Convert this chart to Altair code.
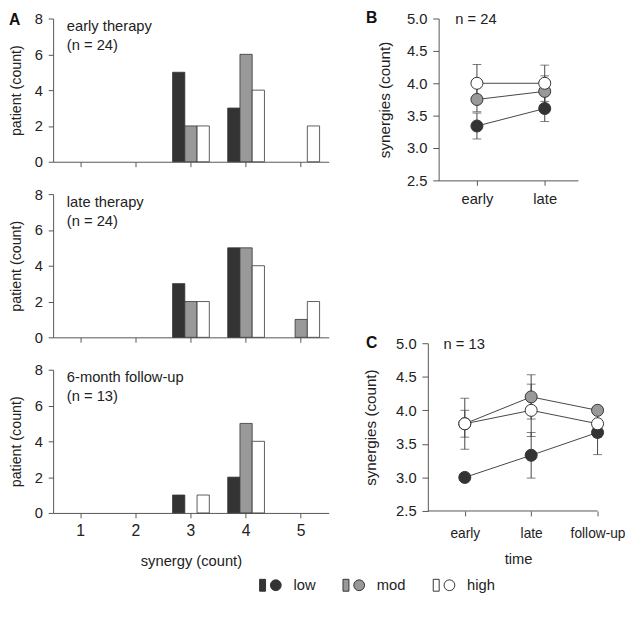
import altair as alt
import pandas as pd

FONT = "Liberation Sans"

# ---------------- data ----------------
levels = ["low", "mod", "high"]
level_colors = ["#333333", "#999999", "#ffffff"]
synergy = [1, 2, 3, 4, 5]

early_low = [0, 0, 5, 3, 0]
early_mod = [0, 0, 2, 6, 0]
early_high = [0, 0, 2, 4, 2]

late_low = [0, 0, 3, 5, 0]
late_mod = [0, 0, 2, 5, 1]
late_high = [0, 0, 2, 4, 2]

follow_low = [0, 0, 1, 2, 0]
follow_mod = [0, 0, 0, 5, 0]
follow_high = [0, 0, 1, 4, 0]

panel_titles = [["early therapy", "(n = 24)"],
                ["late therapy", "(n = 24)"],
                ["6-month follow-up", "(n = 13)"]]

times_B = ["early", "late"]
B_low_mean = [3.34, 3.61]
B_low_err = [0.20, 0.20]
B_mod_mean = [3.75, 3.875]
B_mod_err = [0.19, 0.24]
B_high_mean = [4.0, 4.0]
B_high_err = [0.29, 0.28]

times_C = ["early", "late", "follow-up"]
C_low_mean = [3.0, 3.33, 3.67]
C_low_err = [0.0, 0.34, 0.33]
C_mod_mean = [3.8, 4.2, 4.0]
C_mod_err = [0.38, 0.33, 0.0]
C_high_mean = [3.8, 4.0, 3.8]
C_high_err = [0.2, 0.39, 0.2]

y_ticks_A = [0, 2, 4, 6, 8]
y_ticks_BC = [2.5, 3.0, 3.5, 4.0, 4.5, 5.0]

# ---------------- shared pieces ----------------
SYMBOL_PATH = ("M-1,-0.55L-0.45,-0.55L-0.45,0.55L-1,0.55Z "
               "M0,0A0.5,0.5 0 1,0 1,0A0.5,0.5 0 1,0 0,0Z")

LEGEND = alt.Legend(
    title=None, orient="none", legendX=210, legendY=566,
    direction="horizontal", symbolType=SYMBOL_PATH, symbolSize=484,
    symbolStrokeColor="#333333", symbolStrokeWidth=1, symbolOpacity=1,
    labelFont=FONT, labelFontSize=15, labelColor="#222222",
    labelOffset=12, columnPadding=25,
)

FILL_SCALE = alt.Scale(domain=levels, range=level_colors)


def fill_enc():
    return alt.Fill("level:N", scale=FILL_SCALE, legend=LEGEND, sort=levels)


def one_row():
    return alt.Chart(pd.DataFrame({"k": [0]}))


def panel_A(lows, mods, highs, title_lines, show_labels, letter=None):
    rows = []
    for lev, vals in zip(levels, [lows, mods, highs]):
        for s, c in zip(synergy, vals):
            if c > 0:
                rows.append({"synergy": s, "level": lev, "count": c})
    df = pd.DataFrame(rows)
    x = alt.X(
        "synergy:O",
        scale=alt.Scale(domain=synergy, paddingInner=0.3333, paddingOuter=0.1667),
        axis=alt.Axis(
            labels=show_labels, labelAngle=0, labelFontSize=16, labelPadding=5,
            title="synergy (count)" if show_labels else None,
            titleFontSize=15, titlePadding=16, tickSize=5,
        ),
    )
    y = alt.Y(
        "count:Q",
        scale=alt.Scale(domain=[0, 8], nice=False),
        axis=alt.Axis(values=y_ticks_A, title="patient (count)",
                      labelFontSize=15, labelPadding=6, titlePadding=11,
                      titleFontSize=14.5, labelOverlap=False),
    )
    bars = alt.Chart(df).mark_bar(stroke="#333333", strokeWidth=0.8).encode(
        x=x,
        xOffset=alt.XOffset("level:N",
                            scale=alt.Scale(domain=levels, paddingInner=0, paddingOuter=0)),
        y=y,
        fill=fill_enc(),
    )
    layers = [bars]
    lab = one_row().mark_text(
        text=title_lines, align="left", baseline="top", font=FONT,
        fontSize=15, lineHeight=19, color="#222222",
    ).encode(x=alt.value(14), y=alt.value(1))
    layers.append(lab)
    if letter:
        let = one_row().mark_text(
            text=letter, align="left", baseline="middle", font=FONT,
            fontSize=16, fontWeight="bold", color="#111111",
        ).encode(x=alt.value(-45), y=alt.value(2))
        layers.append(let)
    return alt.layer(*layers).properties(width=281, height=146)


def make_df(times, means, errs):
    rows = []
    for lev, m_list, e_list in zip(levels, means, errs):
        for i, (t, m, e) in enumerate(zip(times, m_list, e_list)):
            rows.append({"t": i + 1, "time": t, "level": lev, "mean": m, "err": e})
    return pd.DataFrame(rows)


def panel_line(df, width, height, xdomain, xvalues, n_text, n_x, letter,
               x_title=None, y_offset=0, draw_domain=True, title_pad=12,
               label_expr="", x_label_pad=5, x_title_pad=9, x_label_size=15):
    xs = alt.Scale(domain=xdomain, nice=False, zero=False)
    ys = alt.Scale(domain=[2.5, 5.0], nice=False, zero=False)
    xaxis = alt.Axis(values=xvalues, labelExpr=label_expr, title=x_title,
                     domain=draw_domain, tickSize=5, labelPadding=x_label_pad,
                     titlePadding=x_title_pad, labelFontSize=x_label_size,
                     titleFontSize=15, labelFlush=False)
    yaxis = alt.Axis(values=y_ticks_BC, format=".1f", title="synergies (count)",
                     offset=y_offset, labelPadding=6, titlePadding=title_pad,
                     labelFontSize=15, titleFontSize=15.5, labelOverlap=False,
                     tickSize=6)
    X = alt.X("t:Q", scale=xs, axis=xaxis)
    Ym = alt.Y("mean:Q", scale=ys, axis=yaxis)
    base = alt.Chart(df)
    lines = base.mark_line(color="#444444", strokeWidth=1).encode(
        x=X, y=Ym, detail="level:N")
    eb = base.transform_calculate(
        lo="datum.mean - datum.err", hi="datum.mean + datum.err"
    ).transform_filter("datum.err > 0")
    rules = eb.mark_rule(color="#444444", strokeWidth=1).encode(
        x=X, y=alt.Y("lo:Q", scale=ys, axis=yaxis), y2="hi:Q")
    cap_lo = eb.mark_tick(orient="horizontal", size=9, thickness=1,
                          color="#444444").encode(
        x=X, y=alt.Y("lo:Q", scale=ys, axis=yaxis))
    cap_hi = eb.mark_tick(orient="horizontal", size=9, thickness=1,
                          color="#444444").encode(
        x=X, y=alt.Y("hi:Q", scale=ys, axis=yaxis))
    pts = base.mark_point(filled=True, shape="circle", size=150, opacity=1,
                          stroke="#333333", strokeWidth=1).encode(
        x=X, y=Ym, fill=fill_enc())
    nt = one_row().mark_text(
        text=n_text, align="left", baseline="middle", font=FONT,
        fontSize=15, color="#222222").encode(x=alt.value(n_x), y=alt.value(1))
    let = one_row().mark_text(
        text=letter, align="left", baseline="middle", font=FONT,
        fontSize=16, fontWeight="bold", color="#111111").encode(
        x=alt.value(-74), y=alt.value(0))
    layers = [lines, rules, cap_lo, cap_hi, pts, nt, let]
    if not draw_domain:
        base_rule = one_row().mark_rule(color="#555555", strokeWidth=1).encode(
            x=alt.datum(xdomain[0] - y_offset * (xdomain[1] - xdomain[0]) / width,
                        scale=xs, axis=xaxis),
            x2=alt.datum(xdomain[1]),
            y=alt.datum(2.5, scale=ys, axis=yaxis))
        layers.insert(1, base_rule)
    return alt.layer(*layers).properties(width=width, height=height)


A1 = panel_A(early_low, early_mod, early_high, panel_titles[0], False, "A")
A2 = panel_A(late_low, late_mod, late_high, panel_titles[1], False)
A3 = panel_A(follow_low, follow_mod, follow_high, panel_titles[2], True)
colA = alt.vconcat(A1, A2, A3, spacing=18)

dfB = make_df(times_B, [B_low_mean, B_mod_mean, B_high_mean],
              [B_low_err, B_mod_err, B_high_err])
dfC = make_df(times_C, [C_low_mean, C_mod_mean, C_high_mean],
              [C_low_err, C_mod_err, C_high_err])

expr_B = "datum.value == 1 ? 'early' : datum.value == 2 ? 'late' : ''"
expr_C = ("datum.value == 1 ? 'early' : datum.value == 2 ? 'late' : "
          "datum.value == 3 ? 'follow-up' : ''")

B = panel_line(dfB, 142, 165, [0.435, 2.49], [1, 2], "n = 24", 17, "B",
               label_expr=expr_B, title_pad=14, x_label_pad=7)
C = panel_line(dfC, 162, 171, [0.606, 3.0], [1, 2, 3], "n = 13", 5, "C",
               x_title="time", y_offset=11, draw_domain=False, title_pad=17,
               label_expr=expr_C, x_label_pad=11, x_title_pad=12,
               x_label_size=14)
colR = alt.vconcat(B, C, spacing=131)

chart = alt.hconcat(colA, colR, spacing=36).properties(
    padding={"left": 0, "top": -3, "right": 0, "bottom": 0}
).configure_view(stroke=None).configure_axis(
    domainColor="#555555", tickColor="#555555", labelColor="#222222",
    titleColor="#222222", labelFont=FONT, titleFont=FONT,
    titleFontWeight="normal", grid=False,
).configure_text(font=FONT)

chart.save("out.html", embed_options={"renderer": "svg", "actions": False})
